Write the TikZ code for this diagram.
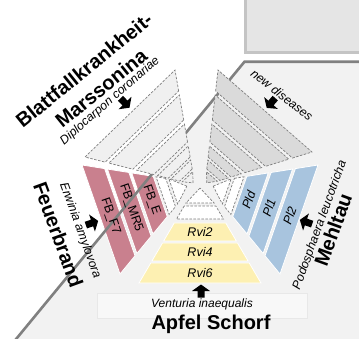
\documentclass[tikz,border=0pt]{standalone}
\usepackage{fontspec}
\setmainfont{Liberation Sans}
\usetikzlibrary{calc}
\definecolor{bggray}{HTML}{F2F2F2}
\definecolor{linegray}{HTML}{808080}
\definecolor{boxfill}{HTML}{E5E5E5}
\definecolor{boxline}{HTML}{C4C4C4}
\definecolor{yel}{RGB}{253,240,178}
\definecolor{blu}{RGB}{168,196,222}
\definecolor{redd}{RGB}{201,128,142}
\definecolor{sgray}{HTML}{DADADA}
\definecolor{slight}{HTML}{F0F0F0}
\definecolor{dashc}{HTML}{7E7E7E}
\tikzset{
 dashrow/.style={draw=dashc, line width=0.7pt, dash pattern=on 2.5pt off 1.5pt},
 colrow/.style={draw=white, line width=0.8pt},
 bigtitle/.style={font=\fontsize{20}{21}\selectfont\bfseries, inner sep=0pt},
 latin/.style={font=\fontsize{12.3}{13}\selectfont\itshape, inner sep=0pt},
 bandlbl/.style={font=\fontsize{12.5}{13}\selectfont\itshape, inner sep=0pt},
 fblbl/.style={font=\fontsize{12.5}{13}\selectfont, inner sep=0pt},
}
\newcommand\band[6]{\path[#6] ($(#1)!#4!(#2)$) -- ($(#1)!#5!(#2)$) -- ($(#1)!#5!(#3)$) -- ($(#1)!#4!(#3)$) -- cycle;}
\newcommand\tri[7]{\path[#7] ($(#1)!#5!(#4)$) -- ($(#1)!#6!(#2)$) -- ($(#1)!#6!(#3)$) -- cycle;}
\newcommand\blkarrow[2]{\fill[black, shift={(#1)}, rotate=#2] (6.5,0) -- (0,9) -- (0,3.5) -- (-6.5,3.5) -- (-6.5,-3.5) -- (0,-3.5) -- (0,-9) -- cycle;}
\begin{document}
\begin{tikzpicture}[x=1pt,y=-1pt]
\useasboundingbox (0,0) rectangle (359,338);
\fill[white] (0,0) rectangle (359,338);
% background regions
\coordinate (L1) at (14.5,341);
\coordinate (L2) at (244.5,61.7);
\coordinate (L3) at (365,61.7);
\fill[bggray] (L1) -- (L2) -- (L3) -- (365,345) -- (14.5,345) -- cycle;
\draw[boxline, fill=boxfill, line width=2.5pt] (245.5,-5) rectangle (365,52.3);
\draw[draw={rgb,255:red,232;green,232;blue,232}, fill={rgb,255:red,248;green,248;blue,248}, line width=0.6pt] (97,293) rectangle (307,318);
% sector geometry
\coordinate (A0) at (200,179); \coordinate (B0a) at (139,283); \coordinate (B0b) at (261,283);
\coordinate (M0) at ($(B0a)!0.5!(B0b)$);
\coordinate (A1) at (205,183); \coordinate (B1a) at (318,165); \coordinate (B1b) at (280,274);
\coordinate (M1) at ($(B1a)!0.5!(B1b)$);
\coordinate (A4) at (195,183); \coordinate (B4a) at (82,165); \coordinate (B4b) at (120,274);
\coordinate (M4) at ($(B4a)!0.5!(B4b)$);
\coordinate (A2) at (205,185); \coordinate (B2a) at (218,70); \coordinate (B2b) at (312,152);
\coordinate (M2) at ($(B2a)!0.5!(B2b)$);
\coordinate (A3) at (195,185); \coordinate (B3a) at (175,70); \coordinate (B3b) at (85,157);
\coordinate (M3) at ($(B3a)!0.5!(B3b)$);
% bottom sector (Apfel Schorf)
\tri{A0}{B0a}{B0b}{M0}{0.087}{0.231}{dashrow, fill=white}
\band{A0}{B0a}{B0b}{0.26}{0.385}{dashrow, fill=white}
\band{A0}{B0a}{B0b}{0.423}{0.596}{colrow, fill=yel}
\band{A0}{B0a}{B0b}{0.615}{0.788}{colrow, fill=yel}
\band{A0}{B0a}{B0b}{0.808}{1}{colrow, fill=yel}
% lower right (Mehltau)
\tri{A1}{B1a}{B1b}{M1}{0.087}{0.231}{dashrow, fill=white}
\band{A1}{B1a}{B1b}{0.26}{0.345}{dashrow, fill=white}
\band{A1}{B1a}{B1b}{0.37}{0.56}{colrow, fill=blu}
\band{A1}{B1a}{B1b}{0.585}{0.775}{colrow, fill=blu}
\band{A1}{B1a}{B1b}{0.80}{1}{colrow, fill=blu}
% lower left (Feuerbrand)
\tri{A4}{B4a}{B4b}{M4}{0.087}{0.231}{dashrow, fill=white}
\band{A4}{B4a}{B4b}{0.26}{0.345}{dashrow, fill=white}
\band{A4}{B4a}{B4b}{0.37}{0.56}{colrow, fill=redd}
\band{A4}{B4a}{B4b}{0.585}{0.775}{colrow, fill=redd}
\band{A4}{B4a}{B4b}{0.80}{1}{colrow, fill=redd}
% boundary line
\draw[linegray, line width=2.6pt, line join=miter] (L1) -- (L2) -- (L3);
% upper left (Marssonina)
\tri{A3}{B3a}{B3b}{M3}{0.03}{0.115}{dashrow, fill=slight}
\band{A3}{B3a}{B3b}{0.139}{0.217}{dashrow, fill=slight}
\band{A3}{B3a}{B3b}{0.243}{0.339}{dashrow, fill=slight}
\band{A3}{B3a}{B3b}{0.374}{0.53}{dashrow, fill=slight}
\band{A3}{B3a}{B3b}{0.565}{0.783}{dashrow, fill=slight}
\band{A3}{B3a}{B3b}{0.817}{1}{dashrow, fill=slight}
% upper right (new diseases)
\tri{A2}{B2a}{B2b}{M2}{0.03}{0.115}{dashrow, fill=sgray}
\band{A2}{B2a}{B2b}{0.139}{0.217}{dashrow, fill=sgray}
\band{A2}{B2a}{B2b}{0.243}{0.339}{dashrow, fill=sgray}
\band{A2}{B2a}{B2b}{0.374}{0.53}{dashrow, fill=sgray}
\band{A2}{B2a}{B2b}{0.565}{0.783}{dashrow, fill=sgray}
\band{A2}{B2a}{B2b}{0.817}{1}{dashrow, fill=sgray}
% band labels
\node (rvi2) [bandlbl] at ($(A0)!0.51!(M0)$) {Rvi2};
\node (rvi4) [bandlbl] at ($(A0)!0.70!(M0)$) {Rvi4};
\node (rvi6) [bandlbl] at ($(A0)!0.90!(M0)$) {Rvi6};
\node (pld) [bandlbl, rotate=71] at ($(A1)!0.465!(M1)$) {Pld};
\node (pl1) [bandlbl, rotate=71] at ($(A1)!0.68!(M1)$) {Pl1};
\node (pl2) [bandlbl, rotate=71] at ($(A1)!0.90!(M1)$) {Pl2};
\node (fbe) [fblbl, rotate=-71] at ($(A4)!0.465!(M4)$) {FB\_E};
\node (fbmr) [fblbl, rotate=-71] at ($(A4)!0.68!(M4)$) {FB\_MR5};
\node (fbf) [fblbl, rotate=-71] at ($(A4)!0.90!(M4)$) {FB\_F7};
% arrows
\coordinate (ar0) at (201,291); \blkarrow{ar0}{90}
\coordinate (ar1) at (306,222); \blkarrow{ar1}{161}
\coordinate (ar4) at (92,223); \blkarrow{ar4}{19}
\coordinate (ar3) at (125,103); \blkarrow{ar3}{-46}
\coordinate (ar2) at (271,103); \blkarrow{ar2}{-131}
% titles
\node (apfel) [bigtitle] at (211,324) {Apfel Schorf};
\node (ventu) [latin, font=\fontsize{12}{13}\selectfont\itshape] at (202,304.5) {Venturia inaequalis};
\node (blatt) [bigtitle, rotate=39] at (84,70) {Blattfallkrankheit-};
\node (mars) [bigtitle, rotate=39] at (101,88) {Marssonina};
\node (diplo) [latin, rotate=41] at (110,101) {Diplocarpon coronariae};
\node (newd) [latin, rotate=-38] at (282,95) {new diseases};
\node (podo) [latin, rotate=70] at (320,225) {Podosphaera leucotricha};
\node (mehl) [bigtitle, rotate=70] at (333,230) {Mehltau};
\node (feuer) [bigtitle, rotate=-70] at (58.5,234.5) {Feuerbrand};
\node (erw) [latin, rotate=-70] at (80,230.5) {Erwinia amylovora};
\end{tikzpicture}
\end{document}
